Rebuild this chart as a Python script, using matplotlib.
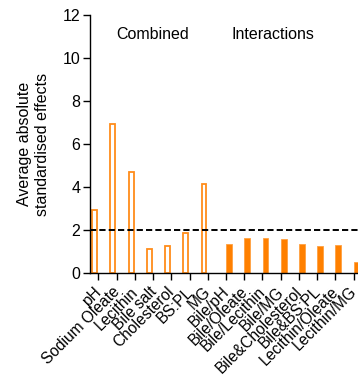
import matplotlib
matplotlib.use("Agg")
import matplotlib.pyplot as plt
import matplotlib.transforms as mtransforms
import numpy as np

plt.rcParams['font.family'] = ['Liberation Sans', 'DejaVu Sans']

labels = ["pH", "Sodium Oleate", "Lecithin", "Bile salt", "Cholesterol", "BS:PL", "MG",
          "Bile/pH", "Bile/Oleate", "Bile/Lecithin", "Bile/MG", "Bile&Cholesterol",
          "Bile&BS:PL", "Lecithin/Oleate", "Lecithin/MG"]
combined = [2.93, 6.92, 4.70, 1.13, 1.26, 1.85, 4.15]
interactions = [1.33, 1.61, 1.64, 1.60, 1.36, 1.24, 1.30, 0.51]
threshold = 2.0
yticks = [0, 2, 4, 6, 8, 10, 12]

fig = plt.figure(figsize=(3.58, 3.76), dpi=100)
ax = fig.add_axes([90/358, 103/376, (361.9-90)/358, (273-15)/376])

orange = '#FF8000'
x = np.arange(len(labels))
xc = x[:len(combined)]
xi = x[len(combined):]

ax.bar(xc - 0.205, combined, width=0.27, facecolor='white', edgecolor='#FF8C1A', linewidth=1.3)
ax.bar(xi + 0.17, interactions, width=0.32, color=orange, edgecolor='#FFA040', linewidth=0.6)

ax.axhline(threshold, color='black', linestyle=(0, (3.2, 1.6)), linewidth=1.4, zorder=3)

ax.set_xlim(-0.46, 14.46)
ax.set_ylim(0, 12)
ax.set_yticks(yticks)
ax.set_xticks(x)
ax.set_xticklabels(labels, rotation=45, ha='right', rotation_mode='anchor', fontsize=11.2)
ax.tick_params(axis='y', labelsize=11.5, length=5, width=1, pad=2)
ax.tick_params(axis='x', length=5, width=1, pad=3)

offset = mtransforms.ScaledTranslation(-4.5/100, 0, fig.dpi_scale_trans)
for lab in ax.get_xticklabels():
    lab.set_transform(lab.get_transform() + offset)

for s in ['top', 'right']:
    ax.spines[s].set_visible(False)
for s in ['left', 'bottom']:
    ax.spines[s].set_linewidth(1.0)

ax.set_ylabel("Average absolute\nstandardised effects", fontsize=11.5, labelpad=9, linespacing=1.25)

ax.text(3.0, 11.08, "Combined", ha='center', va='center', fontsize=11.5)
ax.text(9.58, 11.08, "Interactions", ha='center', va='center', fontsize=11.5)

fig.savefig("out.png", dpi=100)
